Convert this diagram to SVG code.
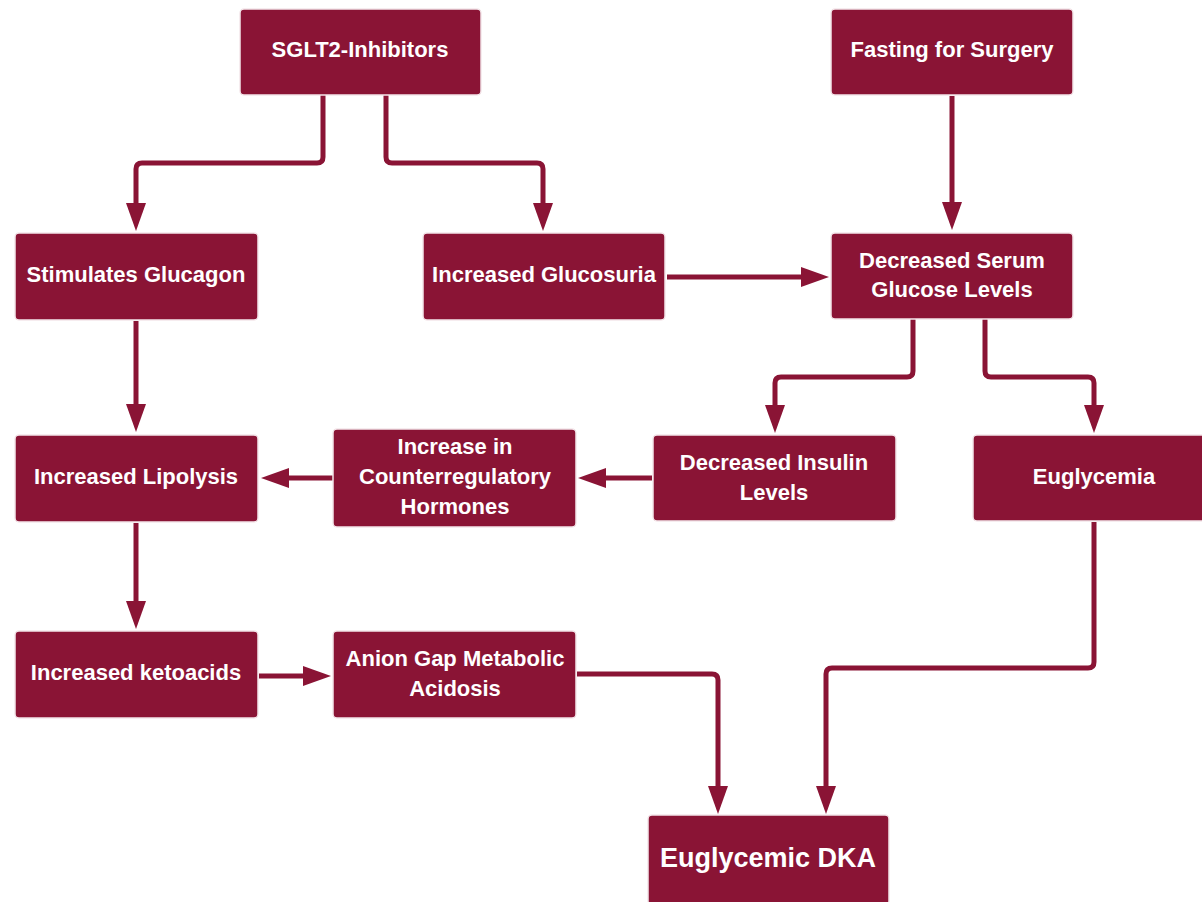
<svg xmlns="http://www.w3.org/2000/svg" width="1202" height="902" viewBox="0 0 1202 902">
<defs>
<style>
.box{fill:#8a1435;stroke:#f4e6ea;stroke-width:1.5}
.t{fill:#ffffff;font-family:"Liberation Sans",Arial,sans-serif;font-weight:bold;font-size:22px;text-anchor:middle;dominant-baseline:central}
.big{font-size:27px}
.c{fill:none;stroke:#8a1435;stroke-width:5;marker-end:url(#ah)}
</style>
<marker id="ah" markerUnits="userSpaceOnUse" markerWidth="28" markerHeight="20" refX="2" refY="10" orient="auto">
<path d="M0,0 L28,10 L0,20 Z" fill="#8a1435"/>
</marker>
</defs>
<rect width="1202" height="902" fill="#ffffff"/>
<g id="connectors">
<path class="c" d="M323,95 V157 Q323,163 317,163 H142 Q136,163 136,169 V205"/>
<path class="c" d="M386,95 V157 Q386,163 392,163 H537 Q543,163 543,169 V205"/>
<path class="c" d="M952,96 V204"/>
<path class="c" d="M667,277 H803"/>
<path class="c" d="M136,321 V406"/>
<path class="c" d="M913,319 V371 Q913,377 907,377 H781 Q775,377 775,383 V407"/>
<path class="c" d="M985,319 V371 Q985,377 991,377 H1088 Q1094,377 1094,383 V407"/>
<path class="c" d="M652,478 H604"/>
<path class="c" d="M333,478 H287"/>
<path class="c" d="M136,523 V603"/>
<path class="c" d="M259,676 H305"/>
<path class="c" d="M577,674 H712 Q718,674 718,680 V788"/>
<path class="c" d="M1094,522 V662 Q1094,668 1088,668 H832 Q826,668 826,674 V788"/>
</g>
<g id="sglt2"><rect class="box" x="240" y="9" width="241" height="86" rx="4"/><text class="t" x="360" y="49">SGLT2-Inhibitors</text></g>
<g id="fasting"><rect class="box" x="831" y="9" width="242" height="86" rx="4"/><text class="t" x="952" y="49">Fasting for Surgery</text></g>
<g id="stimulates-glucagon"><rect class="box" x="15" y="233" width="243" height="87" rx="4"/><text class="t" x="136" y="274">Stimulates Glucagon</text></g>
<g id="increased-glucosuria"><rect class="box" x="423" y="233" width="242" height="87" rx="4"/><text class="t" x="544" y="274">Increased Glucosuria</text></g>
<g id="decreased-serum-glucose"><rect class="box" x="831" y="233" width="242" height="86" rx="4"/><text class="t" x="952" y="260">Decreased Serum</text><text class="t" x="952" y="289">Glucose Levels</text></g>
<g id="increased-lipolysis"><rect class="box" x="15" y="435" width="243" height="87" rx="4"/><text class="t" x="136" y="476">Increased Lipolysis</text></g>
<g id="counterregulatory"><rect class="box" x="333" y="429" width="243" height="98" rx="4"/><text class="t" x="455" y="446">Increase in</text><text class="t" x="455" y="476">Counterregulatory</text><text class="t" x="455" y="506">Hormones</text></g>
<g id="decreased-insulin"><rect class="box" x="653" y="435" width="243" height="86" rx="4"/><text class="t" x="774" y="462">Decreased Insulin</text><text class="t" x="774" y="492">Levels</text></g>
<g id="euglycemia"><rect class="box" x="973" y="435" width="242" height="86" rx="4"/><text class="t" x="1094" y="476">Euglycemia</text></g>
<g id="increased-ketoacids"><rect class="box" x="15" y="631" width="243" height="87" rx="4"/><text class="t" x="136" y="672">Increased ketoacids</text></g>
<g id="anion-gap"><rect class="box" x="333" y="631" width="243" height="87" rx="4"/><text class="t" x="455" y="658">Anion Gap Metabolic</text><text class="t" x="455" y="688">Acidosis</text></g>
<g id="euglycemic-dka"><rect class="box" x="648" y="815" width="241" height="90" rx="4"/><text class="t big" x="768" y="858">Euglycemic DKA</text></g>
</svg>
